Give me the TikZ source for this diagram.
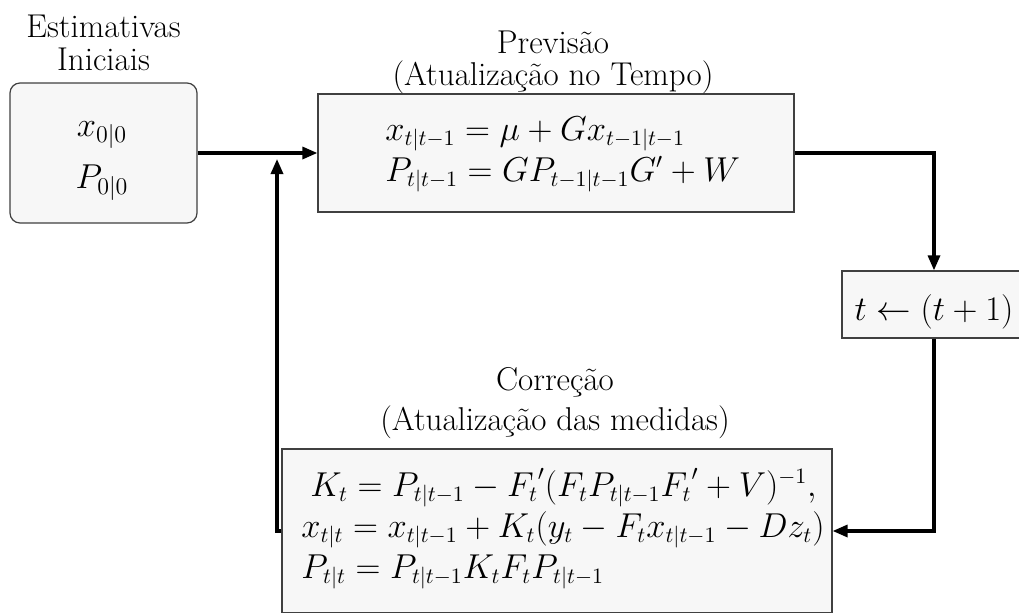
\documentclass[tikz,border=0pt]{standalone}
\usepackage{amsmath}
\usetikzlibrary{arrows.meta}
\begin{document}
\begin{tikzpicture}[x=0.5pt,y=-0.5pt,
  box/.style={draw=black!75, fill=black!3, line width=0.6pt, inner sep=0pt},
  conn/.style={line width=1.6pt, -{Triangle[length=7.5pt,width=6pt]}},
  ttl/.style={font=\fontsize{16.5}{19.5}\selectfont, inner sep=0pt},
  txt/.style={font=\fontsize{16}{19.5}\selectfont, inner sep=0pt},
]
\useasboundingbox (0,0) rectangle (1019,612);
% boxes
\node[box, rounded corners=5pt, minimum width=93.5pt, minimum height=70pt] (init) at (103.5,153) {};
\node[box, minimum width=238pt, minimum height=59pt] (pred) at (556,153) {};
\node[box, minimum width=92pt, minimum height=33.5pt] (tbox) at (934,304.5) {};
\node[box, minimum width=275pt, minimum height=82pt] (corr) at (557,531) {};
% titles
\node[ttl, anchor=base] (ti1) at (103.5,37) {Estimativas};
\node[ttl, anchor=base] (ti2) at (103.5,70) {Iniciais};
\node[ttl, anchor=base] (tp1) at (553,53) {Previsão};
\node[ttl, anchor=base] (tp2) at (553,85) {(Atualização no Tempo)};
\node[ttl, anchor=base] (tc1) at (555,390) {Correção};
\node[ttl, anchor=base] (tc2) at (555,430) {(Atualização das medidas)};
% init contents
\node[ttl, anchor=base] (x0) at (102,136) {$x_{0|0}$};
\node[ttl, anchor=base] (p0) at (102,188) {$P_{0|0}$};
% prediction contents
\node[txt, anchor=base west] (e1) at (385,140) {$x_{t|t-1} = \mu + G x_{t-1|t-1}$};
\node[txt, anchor=base west] (e2) at (385,181) {$P_{t|t-1} = G P_{t-1|t-1} G' + W$};
% time step
\node[txt, anchor=base] (ts) at (934,320) {$t \leftarrow (t+1)$};
% correction contents
\node[txt, anchor=base west] (k1) at (310,496) {$K_t = P_{t|t-1} - {F_t}'(F_t P_{t|t-1} {F_t}' + V)^{-1},$};
\node[txt, anchor=base west] (k2) at (301,537) {$x_{t|t} = x_{t|t-1} + K_t(y_t - F_t x_{t|t-1} - D z_t)$};
\node[txt, anchor=base west] (k3) at (301,578) {$P_{t|t} = P_{t|t-1} K_t F_t P_{t|t-1}$};
% connectors
\coordinate (up) at (277,159);
\draw[conn] (init.east) -- (pred.west);
\draw[conn] (corr.west) -| (up);
\draw[conn] (pred.east) -| (tbox.north);
\draw[conn] (tbox.south) |- (corr.east);
\end{tikzpicture}
\end{document}
